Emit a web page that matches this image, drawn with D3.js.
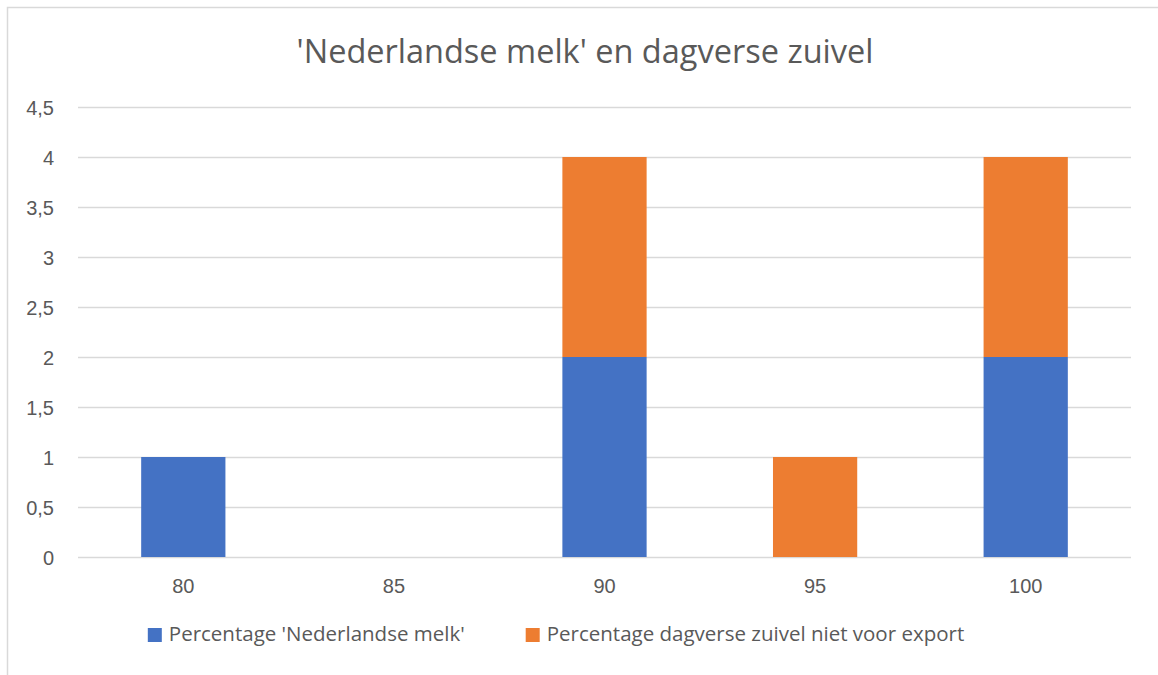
<!DOCTYPE html>
<html>
<head>
<meta charset="utf-8">
<style>
    body { margin: 0; background: #fff; }
    svg { display: block; font-family: 'Open Sans', sans-serif; }
    .grid line { stroke: #d9d9d9; stroke-width: 1.3; }
    .axis text { fill: #595959; font-size: 20px; }
    .title { fill: #595959; font-size: 32.5px; }
    .legend text { fill: #595959; font-size: 20.5px; }
</style>
</head>
<body>
<svg width="1158" height="675"></svg>
<script src="https://d3js.org/d3.v7.min.js"></script>
<script>
let categories = ["80", "85", "90", "95", "100"]
let melk = [1, 0, 2, 0, 2]
let zuivel = [0, 0, 2, 1, 2]
let seriesNames = ["Percentage 'Nederlandse melk'", "Percentage dagverse zuivel niet voor export"]
let seriesColors = ["#4472c4", "#ed7d31"]
let yTicks = [0, 0.5, 1, 1.5, 2, 2.5, 3, 3.5, 4, 4.5]
let title = "'Nederlandse melk' en dagverse zuivel"

let svg = d3.select("svg")
let margin = {top: 107, right: 27, bottom: 118, left: 78}
let width = 1158, height = 675

// chart border (cut off on the right and bottom like the screenshot)
svg.append("rect")
    .attr("x", 7.5).attr("y", 7.5)
    .attr("width", 1200).attr("height", 700)
    .attr("fill", "none").attr("stroke", "#d9d9d9").attr("stroke-width", 1.5)

let rows = categories.map((c, i) => ({cat: c, melk: melk[i], zuivel: zuivel[i]}))
let stacked = d3.stack().keys(["melk", "zuivel"])(rows)

let x = d3.scaleBand()
    .domain(categories)
    .range([margin.left, width - margin.right])
    .paddingInner(0.6)
    .paddingOuter(0.3)

let y = d3.scaleLinear()
    .domain([0, 4.5])
    .range([height - margin.bottom, margin.top])

let fmt = d => String(d).replace(".", ",")

// gridlines
svg.append("g")
    .attr("class", "grid")
    .selectAll("line")
    .data(yTicks)
    .join("line")
    .attr("x1", margin.left)
    .attr("x2", width - margin.right)
    .attr("y1", d => Math.round(y(d)) + 0.5)
    .attr("y2", d => Math.round(y(d)) + 0.5)

// y axis labels
svg.append("g")
    .attr("class", "y axis")
    .attr("transform", `translate(${margin.left - 14},0)`)
    .call(d3.axisLeft(y).tickValues(yTicks).tickFormat(fmt).tickSize(0).tickPadding(10))
    .call(g => g.select(".domain").remove())
    .selectAll("text").attr("dy", "0.35em")

// bars
svg.append("g")
    .selectAll("g")
    .data(stacked)
    .join("g")
    .attr("fill", (d, i) => seriesColors[i])
    .selectAll("rect")
    .data(d => d)
    .join("rect")
    .attr("x", d => x(d.data.cat))
    .attr("width", x.bandwidth())
    .attr("y", d => y(d[1]))
    .attr("height", d => y(d[0]) - y(d[1]))

// x axis labels
svg.append("g")
    .attr("class", "x axis")
    .attr("transform", `translate(0,${height - margin.bottom})`)
    .call(d3.axisBottom(x).tickSize(0).tickPadding(22))
    .call(g => g.select(".domain").remove())

// title
svg.append("text")
    .attr("class", "title")
    .attr("x", 585)
    .attr("y", 63)
    .attr("text-anchor", "middle")
    .text(title)

// legend
let legend = svg.append("g").attr("class", "legend")
let items = legend.selectAll("g")
    .data(seriesNames)
    .join("g")
items.append("rect")
    .attr("width", 14).attr("height", 14)
    .attr("y", -13)
    .attr("fill", (d, i) => seriesColors[i])
items.append("text")
    .attr("x", 21)
    .text(d => d)

let pos = 0
items.each(function () {
    d3.select(this).attr("transform", `translate(${pos},0)`)
    pos += this.getBBox().width + 61
})
let total = pos - 61
legend.attr("transform", `translate(${556 - total / 2},641)`)
</script>
</body>
</html>
